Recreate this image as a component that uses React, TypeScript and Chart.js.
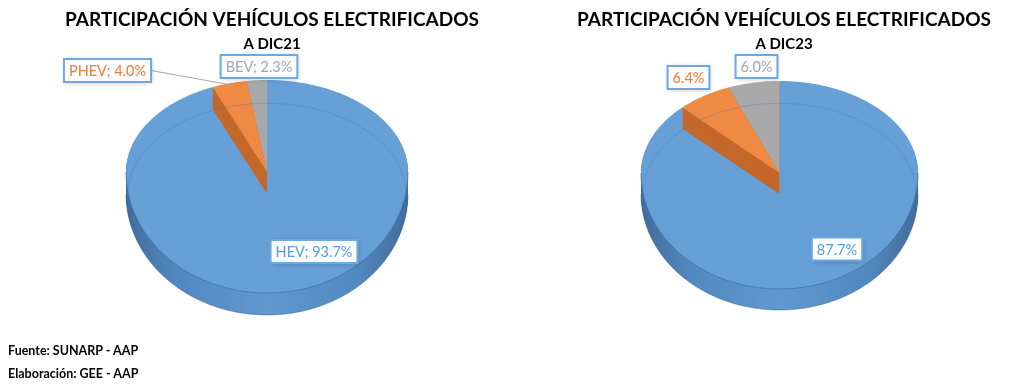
import React, { useEffect, useRef } from 'react';
import { Chart, registerables } from 'chart.js';

Chart.register(...registerables);

// ---------- data ----------
const categories = ['HEV', 'PHEV', 'BEV'];
const sharesDic21 = [93.7, 4.0, 2.3];
const sharesDic23 = [87.7, 6.4, 6.0];
const mainTitle = 'PARTICIPACIÓN VEHÍCULOS ELECTRIFICADOS';
const subtitleDic21 = 'A DIC21';
const subtitleDic23 = 'A DIC23';
const sourceNote = 'Fuente: SUNARP - AAP';
const authorNote = 'Elaboración: GEE - AAP';

// ---------- styles ----------
const topColors = ['#66a0d6', '#ee8a44', '#a9a9a9'];
const faceColors = ['#4f84bb', '#c4672a', '#8e8e8e'];
const textColors = ['#5b9bd5', '#ed7d31', '#a5a5a5'];
const drawOrder = [0, 2, 1];
const FONT = 'Lato';

function slicePath(ctx: CanvasRenderingContext2D, start: number, end: number, r: number, cx: number, cy: number, kTop: number, kBot: number, dy: number, closeToCenter = true) {
  ctx.beginPath();
  const n = Math.max(2, Math.ceil((end - start) / 0.01));
  if (closeToCenter) ctx.moveTo(cx, cy + dy);
  for (let i = 0; i <= n; i++) {
    const a = start + ((end - start) * i) / n;
    const s = Math.sin(a);
    const x = cx + r * Math.cos(a);
    const y = cy + dy + r * s * (s < 0 ? kTop : kBot);
    if (!closeToCenter && i === 0) ctx.moveTo(x, y);
    else ctx.lineTo(x, y);
  }
  if (closeToCenter) ctx.closePath();
}

function geometry(chart: any) {
  const o = chart.options.plugins.pie3d;
  const arcs = chart.getDatasetMeta(0).data as any[];
  if (!arcs.length) return null;
  const r = arcs[0].outerRadius;
  const cx = arcs[0].x + o.dx;
  const cy = o.centerY;
  return { arcs, r, cx, cy, kTop: o.ryTop / r, kBot: o.ryBot / r, depth: o.depth };
}

const pie3d = {
  id: 'pie3d',
  beforeDatasetsDraw(chart: any) {
    const g = geometry(chart);
    if (!g) return false;
    const { arcs, r, cx, cy, kTop, kBot, depth } = g;
    const ctx: CanvasRenderingContext2D = chart.ctx;
    ctx.save();
    const grad = ctx.createLinearGradient(cx - r, 0, cx + r, 0);
    grad.addColorStop(0, '#406c9c');
    grad.addColorStop(0.18, '#5288c0');
    grad.addColorStop(0.5, '#6198d0');
    grad.addColorStop(0.82, '#5288c0');
    grad.addColorStop(1, '#406c9c');
    for (const i of drawOrder) {
      const arc = arcs[i];
      const { startAngle, endAngle } = arc;
      ctx.fillStyle = i === 0 ? grad : faceColors[i];
      for (let d = depth; d >= 1; d--) {
        slicePath(ctx, startAngle, endAngle, r, cx, cy, kTop, kBot, d);
        ctx.fill();
      }
      ctx.fillStyle = topColors[i];
      slicePath(ctx, startAngle, endAngle, r, cx, cy, kTop, kBot, 0);
      ctx.fill();
    }
    // rim of the top surface
    ctx.lineWidth = 1;
    ctx.strokeStyle = 'rgba(60,110,170,0.7)';
    slicePath(ctx, 0, Math.PI, r, cx, cy, kTop, kBot, 0, false);
    ctx.stroke();
    // bottom edge of the side
    ctx.strokeStyle = 'rgba(50,90,140,0.45)';
    slicePath(ctx, 0, Math.PI, r, cx, cy, kTop, kBot, depth, false);
    ctx.stroke();
    // far bottom rim seen through the translucent top
    ctx.strokeStyle = 'rgba(70,120,180,0.35)';
    slicePath(ctx, Math.PI, 2 * Math.PI, r - 2, cx, cy, kTop, kBot, depth, false);
    ctx.stroke();
    ctx.restore();
    return false;
  },
};

const pieLabels = {
  id: 'pieLabels',
  afterDraw(chart: any) {
    const g = geometry(chart);
    if (!g) return;
    const { arcs, r, cx, cy, kTop } = g;
    const o = chart.options.plugins.pieLabels;
    const values = chart.data.datasets[0].data as number[];
    const ctx: CanvasRenderingContext2D = chart.ctx;
    ctx.save();
    ctx.font = `14.5px ${FONT}`;
    ctx.textBaseline = 'middle';
    ctx.textAlign = 'center';
    values.forEach((v, i) => {
      const text = o.withCategory ? `${chart.data.labels[i]}; ${v.toFixed(1)}%` : `${v.toFixed(1)}%`;
      const w = ctx.measureText(text).width + 10;
      const h = 23;
      const [ox, oy] = o.offsets[i];
      const lx = cx + ox;
      const ly = cy + oy;
      const bx = lx - w / 2;
      const by = ly - h / 2;
      if (o.leaders[i]) {
        const a = (arcs[i].startAngle + arcs[i].endAngle) / 2;
        ctx.strokeStyle = '#a6a6a6';
        ctx.lineWidth = 1;
        ctx.beginPath();
        ctx.moveTo(bx + w, ly);
        ctx.lineTo(cx + r * Math.cos(a) + 4, cy + r * Math.sin(a) * kTop + 2);
        ctx.stroke();
      }
      ctx.save();
      ctx.shadowColor = 'rgba(0,0,0,0.25)';
      ctx.shadowBlur = 5;
      ctx.shadowOffsetX = 1;
      ctx.shadowOffsetY = 1;
      ctx.fillStyle = '#fbfcfe';
      ctx.fillRect(bx, by, w, h);
      ctx.restore();
      ctx.strokeStyle = '#6fa8dc';
      ctx.lineWidth = 2;
      ctx.strokeRect(bx, by, w, h);
      ctx.fillStyle = textColors[i];
      ctx.fillText(text, lx, ly + 1);
    });
    ctx.restore();
  },
};

type PieCfg = {
  values: number[];
  subtitle: string;
  left: number;
  width: number;
  radius: number;
  dx: number;
  centerY: number;
  ryTop: number;
  ryBot: number;
  depth: number;
  withCategory: boolean;
  offsets: number[][];
  leaders: boolean[];
};

function PieChart({ cfg }: { cfg: PieCfg }) {
  const ref = useRef<HTMLCanvasElement>(null);
  useEffect(() => {
    const chart = new Chart(ref.current as HTMLCanvasElement, {
      type: 'pie',
      data: {
        labels: categories,
        datasets: [
          {
            data: cfg.values,
            backgroundColor: topColors,
            borderWidth: 0,
            radius: cfg.radius,
            clip: false,
          } as any,
        ],
      },
      options: {
        responsive: false,
        animation: false,
        events: [],
        layout: { padding: 0 },
        plugins: {
          legend: { display: false },
          tooltip: { enabled: false },
          title: {
            display: true,
            text: mainTitle,
            color: '#000',
            font: { family: FONT, size: 19, weight: 'bold' },
            padding: { top: 8, bottom: 4 },
          },
          subtitle: {
            display: true,
            text: cfg.subtitle,
            color: '#000',
            font: { family: FONT, size: 15, weight: 'bold' },
            padding: { top: 0, bottom: 4 },
          },
          pie3d: { dx: cfg.dx, centerY: cfg.centerY, ryTop: cfg.ryTop, ryBot: cfg.ryBot, depth: cfg.depth },
          pieLabels: { withCategory: cfg.withCategory, offsets: cfg.offsets, leaders: cfg.leaders },
        } as any,
      },
      plugins: [pie3d, pieLabels],
    });
    return () => chart.destroy();
  }, [cfg]);
  return (
    <canvas
      ref={ref}
      width={cfg.width}
      height={392}
      style={{ position: 'absolute', left: cfg.left, top: 0, width: cfg.width, height: 392 }}
    />
  );
}

const leftCfg: PieCfg = {
  values: sharesDic21,
  subtitle: subtitleDic21,
  left: 0,
  width: 544,
  radius: 141,
  dx: -5,
  centerY: 172,
  ryTop: 92,
  ryBot: 121,
  depth: 22,
  withCategory: true,
  offsets: [[47, 79.5], [-159.5, -101.5], [-8, -105.5]],
  leaders: [false, true, false],
};

const rightCfg: PieCfg = {
  values: sharesDic23,
  subtitle: subtitleDic23,
  left: 548,
  width: 472,
  radius: 138.5,
  dx: -4.5,
  centerY: 173,
  ryTop: 92,
  ryBot: 116,
  depth: 21,
  withCategory: false,
  offsets: [[57.5, 76], [-91, -95.5], [-23, -106.5]],
  leaders: [false, false, false],
};

const noteStyle: React.CSSProperties = {
  position: 'absolute',
  left: 8,
  fontFamily: FONT,
  fontWeight: 'bold',
  fontSize: 12.5,
  lineHeight: '14px',
  color: '#000',
  whiteSpace: 'nowrap',
};

export default function App() {
  return (
    <div style={{ position: 'fixed', left: 0, top: 0, width: 1020, height: 392, background: '#fff', overflow: 'hidden' }}>
      <PieChart cfg={leftCfg} />
      <PieChart cfg={rightCfg} />
      <div style={{ ...noteStyle, top: 344 }}>{sourceNote}</div>
      <div style={{ ...noteStyle, top: 367 }}>{authorNote}</div>
    </div>
  );
}
